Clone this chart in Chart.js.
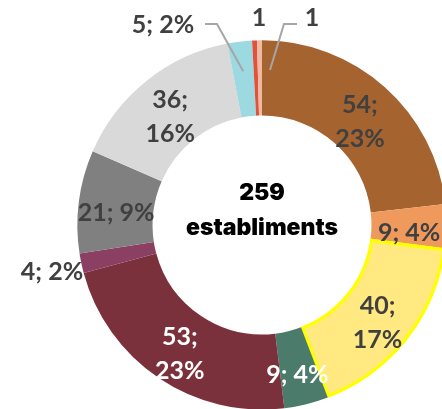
<!DOCTYPE html>
<html>
<head>
<meta charset="utf-8">
<script src="https://cdn.jsdelivr.net/npm/chart.js@4.4.0/dist/chart.umd.min.js"></script>
<style>
  html, body { margin: 0; padding: 0; background: #fff; overflow: hidden; }
  #wrap { width: 442px; height: 409px; overflow: hidden; position: relative; }
  canvas { position: absolute; left: 0; top: 0; }
</style>
</head>
<body>
<div id="wrap"><canvas id="myChart" width="530" height="450"></canvas></div>
<script>
// establiments per categoria (el total del centre ve de l'informe)
const categories = ['A', 'B', 'C', 'D', 'E', 'F', 'G', 'H', 'I', 'J', 'K'];
const valors = [54, 9, 40, 9, 53, 4, 21, 36, 5, 1, 1];
const percentatges = [23, 4, 17, 4, 23, 2, 9, 16, 2, null, null];
const total = 259;
const colors = ['#A5632F', '#EF9A5C', '#FFE980', '#4B7B6B', '#7B313B', '#8B3F62',
                '#808080', '#D9D9D9', '#9DD9E1', '#E0533A', '#F2B9A2'];

// etiquetes en dues linies o una
const dosLinies = [true, false, true, false, true, false, false, true, false, false, false];
const blanc = [false, false, false, true, true, false, false, false, false, false, false];

const etiquetes = {
    id: 'etiquetes',
    afterDatasetsDraw(chart) {
        const ctx = chart.ctx;
        const arcs = chart.getDatasetMeta(0).data;
        ctx.save();
        ctx.font = 'bold 25px Lato';
        ctx.textAlign = 'center';
        ctx.textBaseline = 'middle';

        // linies guia per a les porcions petites
        ctx.strokeStyle = '#A6A6A6';
        ctx.lineWidth = 2;
        const guia = (pts) => {
            ctx.beginPath();
            ctx.moveTo(pts[0][0], pts[0][1]);
            for (let i = 1; i < pts.length; i++) ctx.lineTo(pts[i][0], pts[i][1]);
            ctx.stroke();
        };

        arcs.forEach((arc, i) => {
            const p = arc.getProps(['x', 'y', 'startAngle', 'endAngle', 'innerRadius', 'outerRadius'], true);
            const mid = (p.startAngle + p.endAngle) / 2;
            const r = (p.innerRadius + p.outerRadius) / 2;
            let x = p.x + Math.cos(mid) * r;
            let y = p.y + Math.sin(mid) * r + 7;
            const v = valors[i];
            const pc = percentatges[i];
            ctx.fillStyle = blanc[i] ? '#FFFFFF' : '#404040';

            if (i === 5) {
                ctx.fillText(v + '; ' + pc + '%', 52, p.y + 47);
                return;
            }
            if (i === 8) {
                const ex = p.x + Math.cos(mid) * (p.outerRadius - 30);
                const ey = p.y + Math.sin(mid) * (p.outerRadius - 30);
                guia([[205, 24], [217, 24], [ex, ey]]);
                ctx.fillText(v + '; ' + pc + '%', 163, 25);
                return;
            }
            if (i === 9) {
                ctx.fillText(String(v), 259, 18);
                return;
            }
            if (i === 10) {
                const ex = p.x + 8;
                const ey = p.y - p.outerRadius + 30;
                guia([[297, 24], [284, 24], [ex, ey]]);
                ctx.fillText(String(v), 312, 18);
                return;
            }
            if (dosLinies[i]) {
                ctx.fillText(v + ';', x, y - 17);
                ctx.fillText(pc + '%', x, y + 17);
            } else {
                ctx.fillText(v + '; ' + pc + '%', x, y);
            }
        });

        // text central
        const a = chart.chartArea;
        const cx = (a.left + a.right) / 2;
        const cy = (a.top + a.bottom) / 2;
        ctx.fillStyle = '#000000';
        ctx.font = '900 23px Inter';
        ctx.fillText(String(total), cx, cy - 32);
        ctx.fillText('establiments', cx, cy + 3);
        ctx.restore();
    }
};

const ctx = document.getElementById('myChart').getContext('2d');
const myChart = new Chart(ctx, {
    type: 'doughnut',
    data: {
        labels: categories,
        datasets: [{
            data: valors,
            backgroundColor: colors,
            borderColor: valors.map((v, i) => i === 2 ? '#FFFF00' : 'rgba(0,0,0,0)'),
            borderWidth: valors.map((v, i) => i === 2 ? 3 : 0),
            borderAlign: 'inner'
        }]
    },
    options: {
        responsive: false,
        animation: false,
        devicePixelRatio: 1,
        cutout: '59%',
        layout: { padding: { left: 77, top: 40, right: 83, bottom: 40 } },
        plugins: {
            legend: { display: false },
            tooltip: { enabled: false }
        }
    },
    plugins: [etiquetes]
});
</script>
</body>
</html>
